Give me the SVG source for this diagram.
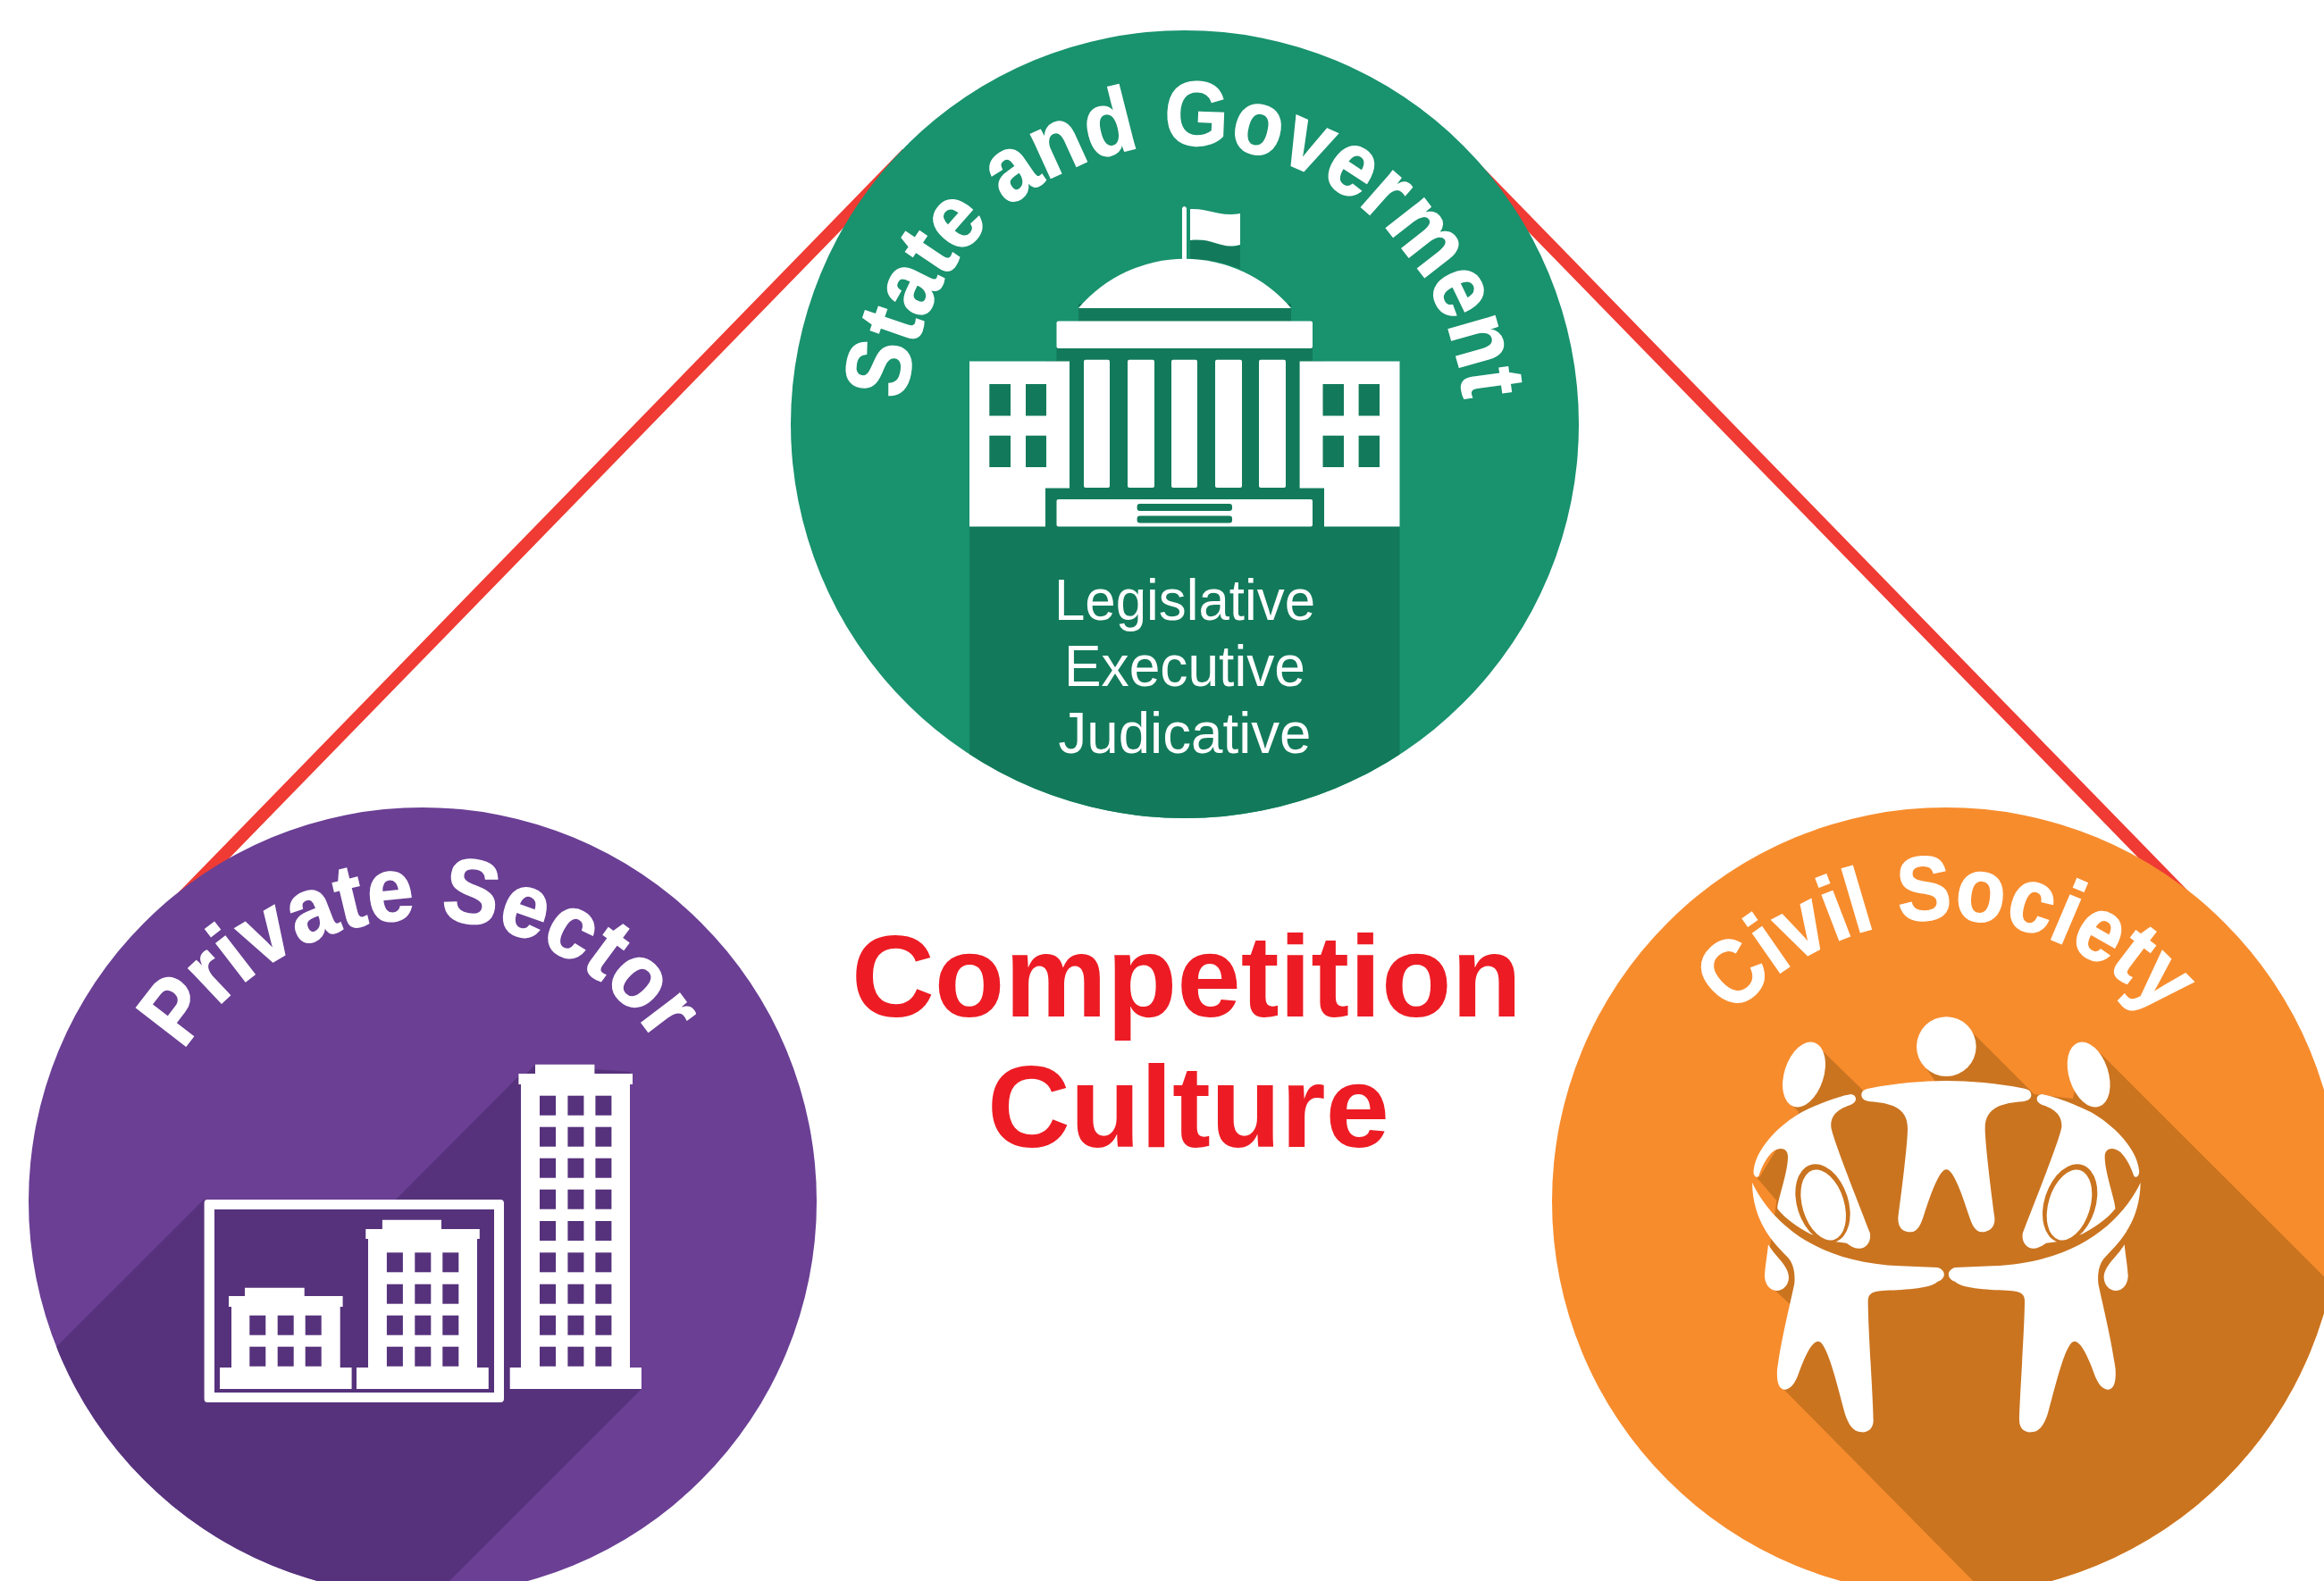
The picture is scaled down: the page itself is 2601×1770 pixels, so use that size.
<svg xmlns="http://www.w3.org/2000/svg" xmlns:xlink="http://www.w3.org/1999/xlink" width="2601" height="1770" viewBox="0 0 2601 1770">
<style>
.t{font-family:"Liberation Sans",Arial,sans-serif}
.arc{font-size:102px;font-weight:700;fill:#fff;stroke:#fff;stroke-width:1.5px}
.sub{font-size:64px;fill:#fff;text-anchor:middle}
.head{font-size:130px;font-weight:700;fill:#ed1c24;text-anchor:middle}
.w{fill:#fff}
.gd{fill:#127a5a}
.pd{fill:#56327c}
.od{fill:#ca7420}
.link{stroke:#ef3b33;stroke-width:14;fill:none}
</style>
<defs>
<clipPath id="cg"><circle cx="1326" cy="475" r="441"/></clipPath>
<clipPath id="cp"><circle cx="473" cy="1345" r="441"/></clipPath>
<clipPath id="co"><circle cx="2178" cy="1345" r="441"/></clipPath>
<path id="pg" d="M1014.100 448.800A313 313 0 0 1 1637.700 446.600"/>
<path id="pp" d="M205.400 1177A316 316 0 0 1 735.300 1168.700"/>
<path id="po" d="M1939.500 1137.700A316 316 0 0 1 2417 1138.400"/>
<g id="win"><rect width="18" height="22" class="pd"/><rect x="31.400" width="18" height="22" class="pd"/><rect x="62.400" width="18" height="22" class="pd"/></g>
<g id="half">
<path class="w" d="M177 820C200 860 245 890 246 930C246 955 228 975 205 975C180 975 165 950 165 925C167 890 173 860 177 820Z"/>
<ellipse class="w" cx="297" cy="249" rx="66" ry="113" transform="rotate(18 297 249)"/>
<path class="w" d="M455 315C475 318 478 340 455 350C420 362 385 380 388 425C395 470 480 680 518 780C525 810 505 835 480 833C465 833 450 822 440 815L400 810L320 785C280 765 235 735 208 700C205 680 243 580 243 525C243 495 215 490 190 510C170 530 155 560 145 590C135 600 125 585 128 570C135 500 210 420 290 375C350 345 420 320 455 315Z"/>
<ellipse class="od" cx="360" cy="682" rx="86" ry="136" transform="rotate(-18 360 682)"/>
<ellipse class="w" cx="362" cy="687" rx="70" ry="122" transform="rotate(-17 362 687)"/>
<path class="w" d="M123 612C180 730 320 880 620 892L745 897C775 905 775 935 745 945C720 970 620 972 560 975C520 978 512 990 512 1010C512 1100 530 1350 530 1410C530 1440 510 1452 490 1450C460 1450 445 1420 435 1390C410 1300 375 1145 345 1145C320 1145 295 1210 280 1250C265 1295 245 1308 230 1307C210 1305 205 1275 207 1240C220 1140 255 1000 265 950C268 910 260 880 240 860C190 810 125 740 123 612Z"/>
</g>
</defs>
<rect width="2601" height="1770" fill="#fff"/>
<g id="connectors">
<path class="link" d="M1015 172L190.700 1018.500"/>
<path class="link" d="M1637 174L2463 1022"/>
</g>
<g id="state-government">
<circle cx="1326" cy="475" r="441" fill="#19926e"/>
<g clip-path="url(#cg)">
<rect class="gd" x="1085" y="589" width="481.500" height="330"/>
<rect class="gd" x="1207" y="340" width="238" height="25"/>
<rect class="gd" x="1182.500" y="385" width="286.500" height="25"/>
<rect class="gd" x="1170" y="404" width="312" height="186"/>
<path class="gd" d="M1332 269H1388V301A150 150 0 0 0 1332 290Z"/>
</g>
<path class="w" d="M1323 233Q1325.500 229 1328 233V290H1323Z"/>
<path class="w" d="M1332 234C1355 233 1362 243 1388 239V274C1365 280 1360 266 1332 269Z"/>
<path class="w" d="M1207 345A156 156 0 0 1 1445 345Z"/>
<rect class="w" x="1182.500" y="359.500" width="286.500" height="30.500" rx="2"/>
<g class="w">
<rect x="1213" y="402.700" width="29" height="143.300" rx="2"/>
<rect x="1262" y="402.700" width="30" height="143.300" rx="2"/>
<rect x="1311" y="402.700" width="29" height="143.300" rx="2"/>
<rect x="1360" y="402.700" width="30" height="143.300" rx="2"/>
<rect x="1409" y="402.700" width="30" height="143.300" rx="2"/>
</g>
<path class="w" d="M1085 404.600H1197V546.600H1170V589.500H1085Z"/>
<path class="w" d="M1454.600 404.600H1566.500V589.500H1482V546.600H1454.600Z"/>
<rect class="w" x="1182.500" y="559" width="286.500" height="30.500" rx="2"/>
<g class="gd">
<rect x="1272.600" y="564" width="106.400" height="8" rx="3"/>
<rect x="1272.600" y="577.600" width="106.400" height="8" rx="3"/>
<rect x="1107.300" y="430" width="23.700" height="35.500"/>
<rect x="1148" y="430" width="23" height="35.500"/>
<rect x="1107.300" y="487.700" width="23.700" height="35.300"/>
<rect x="1148" y="487.700" width="23" height="35.300"/>
<rect x="1480.500" y="430" width="23.500" height="35.500"/>
<rect x="1520.600" y="430" width="23.400" height="35.500"/>
<rect x="1480.500" y="487.700" width="23.500" height="35.300"/>
<rect x="1520.600" y="487.700" width="23.400" height="35.300"/>
</g>
<text class="t arc" textLength="929" lengthAdjust="spacingAndGlyphs"><textPath href="#pg" xlink:href="#pg">State and Goverment</textPath></text>
<text class="t sub" x="1326" y="693.500" textLength="292" lengthAdjust="spacingAndGlyphs">Legislative</text>
<text class="t sub" x="1326" y="768" textLength="270" lengthAdjust="spacingAndGlyphs">Executive</text>
<text class="t sub" x="1326" y="842.500" textLength="283" lengthAdjust="spacingAndGlyphs">Judicative</text>
</g>
<g id="private-sector">
<circle cx="473" cy="1345" r="441" fill="#6a3f94"/>
<path clip-path="url(#cp)" class="pd" d="M599 1192L589 1202H580.400V1205L443 1343H228L0 1571V1770H503L718 1555V1531H705V1200Z"/>
<path class="w" fill-rule="evenodd" d="M232 1343H560Q564 1343 564 1347V1566Q564 1570 560 1570H232Q228.600 1570 228.600 1566V1347Q228.600 1343 232 1343ZM240 1354V1559H553V1354Z"/>
<path class="w" d="M274 1441.700H340.700V1451H383.600V1463H380.700V1531H393.600V1555H246V1531H259V1463H256V1451H274Z"/>
<path class="w" d="M427.900 1365.700H494V1376H536.800V1387H534V1531H546.800V1555H399V1531H412V1387H409.300V1376H427.900Z"/>
<path class="w" d="M599 1191.700H665.400V1202H708V1214H705V1531H717.900V1555H570.700V1531H583V1214H580.400V1202H599Z"/>
<use href="#win" xlink:href="#win" x="279.300" y="1472.700"/><use href="#win" xlink:href="#win" x="279.300" y="1507.700"/>
<use href="#win" xlink:href="#win" x="432.900" y="1402.300"/><use href="#win" xlink:href="#win" x="432.900" y="1437.700"/><use href="#win" xlink:href="#win" x="432.900" y="1472.700"/><use href="#win" xlink:href="#win" x="432.900" y="1507.700"/>
<use href="#win" xlink:href="#win" x="604" y="1226.700"/><use href="#win" xlink:href="#win" x="604" y="1261.700"/><use href="#win" xlink:href="#win" x="604" y="1296.700"/><use href="#win" xlink:href="#win" x="604" y="1331.700"/><use href="#win" xlink:href="#win" x="604" y="1367"/><use href="#win" xlink:href="#win" x="604" y="1402.300"/><use href="#win" xlink:href="#win" x="604" y="1437.700"/><use href="#win" xlink:href="#win" x="604" y="1472.700"/><use href="#win" xlink:href="#win" x="604" y="1507.700"/>
<text class="t arc" textLength="629" lengthAdjust="spacingAndGlyphs"><textPath href="#pp" xlink:href="#pp">Private Sector</textPath></text>
</g>
<g id="civil-society">
<circle cx="2178" cy="1345" r="441" fill="#f78c2d"/>
<g clip-path="url(#co)">
<g transform="translate(1920 1120) scale(.33333)">
<path class="od" d="M775 155L865 110L1070 315L1200 330L1240 140L1300 185L2100 985V1950H865L230 1307L260 1030L185 960L200 900L180 850L205 672L140 597L150 590L280 375L245 340L360 170L490 297L500 310L740 275L705 225Z"/>
</g>
</g>
<g transform="translate(1920 1120) scale(.33333)">
<circle class="w" cx="775" cy="155" r="100"/>
<path class="w" d="M490 318C490 305 500 298 520 295C600 278 700 270 775 270C850 270 950 278 1030 295C1050 298 1060 305 1060 318C1060 332 1045 338 1030 340C970 345 905 355 905 430C905 480 925 640 937 730C940 765 915 778 895 778C870 778 860 750 850 720C830 660 800 568 775 568C750 568 720 660 700 720C690 750 680 778 655 778C630 778 612 765 613 730C625 640 645 480 645 430C645 355 580 345 520 340C505 338 490 332 490 318Z"/>
<use href="#half" xlink:href="#half"/>
<use href="#half" xlink:href="#half" transform="matrix(-1 0 0 1 1550 0)"/>
</g>
<text class="t arc" textLength="541" lengthAdjust="spacingAndGlyphs"><textPath href="#po" xlink:href="#po">Civil Society</textPath></text>
</g>
<g id="center-title">
<text class="t head" x="1328" y="1138" textLength="750" lengthAdjust="spacingAndGlyphs">Competition</text>
<text class="t head" x="1330" y="1284" textLength="450" lengthAdjust="spacingAndGlyphs">Culture</text>
</g>
</svg>
